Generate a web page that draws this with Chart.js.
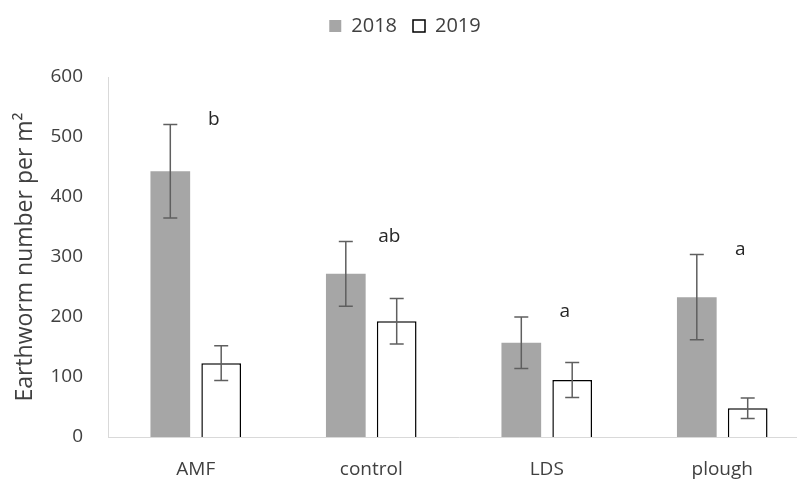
<!DOCTYPE html>
<html>
<head>
<meta charset="utf-8">
<script src="https://cdn.jsdelivr.net/npm/chart.js@4/dist/chart.umd.min.js"></script>
<style>
  html, body { margin: 0; padding: 0; background: #fff; width: 797px; height: 480px; overflow: hidden; }
  canvas { display: block; }
</style>
</head>
<body>
<canvas id="chart" width="824" height="480"></canvas>
<script>
/* ── Data ───────────────────────────────────────────── */
const sites    = ['AMF', 'control', 'LDS', 'plough'];
const years    = ['2018', '2019'];
const mean2018 = [443, 272, 157, 233];
const mean2019 = [123, 193, 95, 48];
const err2018  = [78, 54, 43, 71];
const err2019  = [29, 38, 29, 17];
const letters  = ['b', 'ab', 'a', 'a'];
const yTicks   = [0, 100, 200, 300, 400, 500, 600];

const FONT = "'Open Sans', 'DejaVu Sans', sans-serif";
const errs = [err2018, err2019];

/* ── Error bars ─────────────────────────────────────── */
const errorBars = {
  id: 'errorBars',
  afterDatasetsDraw(chart) {
    const { ctx, scales: { y } } = chart;
    ctx.save();
    ctx.strokeStyle = '#5f5f5f';
    ctx.lineWidth = 1.5;
    chart.data.datasets.forEach((ds, di) => {
      chart.getDatasetMeta(di).data.forEach((bar, i) => {
        const v = ds.data[i], e = errs[di][i];
        const top = y.getPixelForValue(v + e);
        const bot = y.getPixelForValue(v - e);
        ctx.beginPath();
        ctx.moveTo(bar.x, top);   ctx.lineTo(bar.x, bot);
        ctx.moveTo(bar.x - 7, top); ctx.lineTo(bar.x + 7, top);
        ctx.moveTo(bar.x - 7, bot); ctx.lineTo(bar.x + 7, bot);
        ctx.stroke();
      });
    });
    ctx.restore();
  }
};

/* ── Significance letters ───────────────────────────── */
const sigLetters = {
  id: 'sigLetters',
  afterDatasetsDraw(chart) {
    const { ctx, scales: { x, y } } = chart;
    ctx.save();
    ctx.font = `19px ${FONT}`;
    ctx.fillStyle = '#262626';
    ctx.textAlign = 'center';
    ctx.textBaseline = 'middle';
    letters.forEach((l, i) => {
      const px = x.getPixelForValue(i) + 18;
      const py = y.getPixelForValue(mean2018[i] + err2018[i]) - 5;
      ctx.fillText(l, px, py);
    });
    ctx.restore();
  }
};

/* ── Legend height fix ──────────────────────────────── */
const legendHeight = {
  id: 'legendHeight',
  beforeLayout(chart) {
    const lg = chart.legend;
    if (!lg || lg._fixed) return;
    const fit = lg.fit;
    lg.fit = function () { fit.call(this); this.height = 77; };
    lg._fixed = true;
  }
};

new Chart(document.getElementById('chart'), {
  type: 'bar',
  data: {
    labels: sites,
    datasets: [
      { label: years[0], data: mean2018, backgroundColor: '#a6a6a6', borderWidth: 0 },
      { label: years[1], data: mean2019, backgroundColor: '#ffffff', borderColor: '#000000', borderWidth: 1.5 }
    ]
  },
  options: {
    responsive: false,
    devicePixelRatio: 1,
    animation: false,
    layout: { padding: { left: 0, right: 14, top: 0, bottom: 0 } },
    datasets: { bar: { categoryPercentage: 0.58, barPercentage: 0.78 } },
    plugins: {
      legend: {
        position: 'top',
        labels: {
          boxWidth: 12, boxHeight: 12, padding: 16,
          color: '#404040', font: { family: FONT, size: 20 }
        }
      },
      tooltip: { enabled: false }
    },
    scales: {
      x: {
        grid: { display: false, drawTicks: false },
        border: { color: '#d9d9d9', width: 1 },
        ticks: { color: '#404040', font: { family: FONT, size: 19 }, padding: 21 },
        afterFit(s) { s.height = 43; }
      },
      y: {
        min: 0, max: 600,
        afterBuildTicks(s) { s.ticks = yTicks.map(v => ({ value: v })); },
        grid: { display: false, drawTicks: false },
        border: { color: '#d9d9d9', width: 1 },
        ticks: { color: '#404040', font: { family: FONT, size: 19 }, padding: 25 },
        title: {
          display: true, text: 'Earthworm number per m²',
          color: '#404040', font: { family: FONT, size: 23 }, padding: { top: 12, bottom: 0 }
        },
        afterFit(s) { s.width = 108; }
      }
    }
  },
  plugins: [errorBars, sigLetters, legendHeight]
});
</script>
</body>
</html>
